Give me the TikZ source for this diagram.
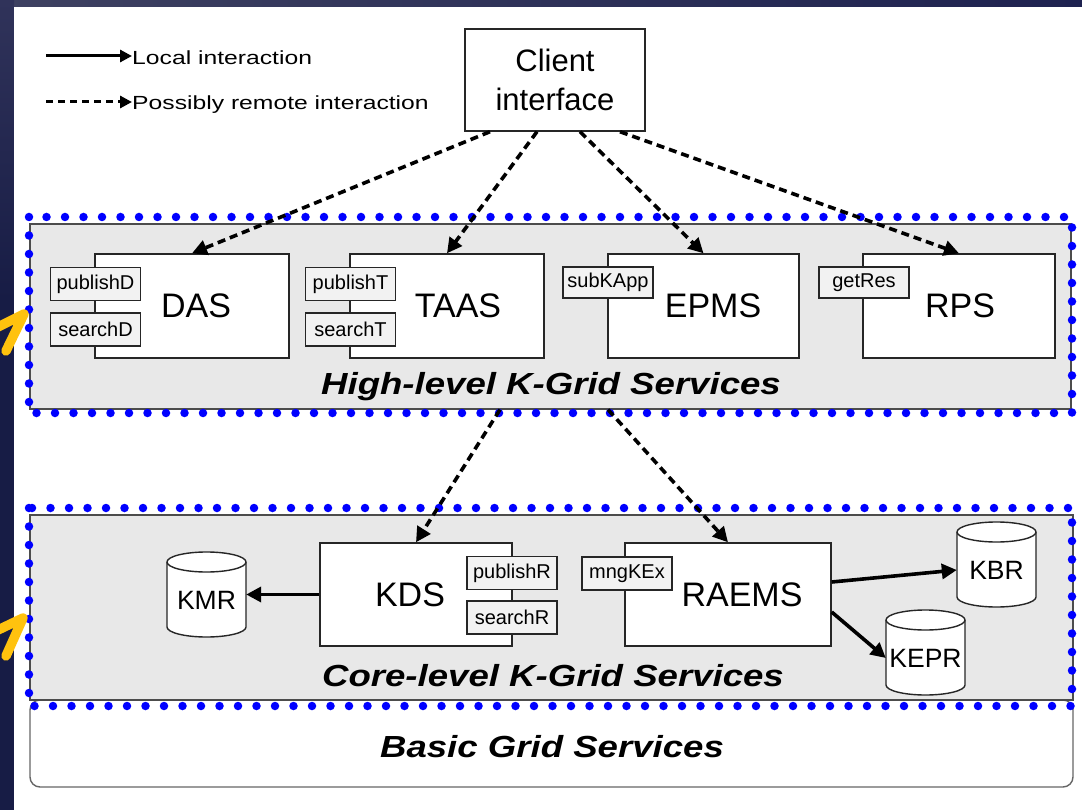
\documentclass[tikz,border=0pt]{standalone}
\usepackage{fontspec}
\setmainfont{Liberation Sans}
\newfontfamily\legendfont[FakeStretch=1.3]{Liberation Sans}
\newfontfamily\titlefont[FakeStretch=1.2]{Liberation Sans}
\usetikzlibrary{arrows.meta}

\definecolor{navy}{HTML}{171C45}
\definecolor{stripL}{HTML}{3E4161}
\definecolor{stripR}{HTML}{1E2250}
\definecolor{stripT}{HTML}{30335A}
\definecolor{regiongray}{HTML}{E8E8E8}
\definecolor{portgray}{HTML}{F2F2F2}
\definecolor{markyellow}{HTML}{FFC20E}

% database drawn as a cylinder around the given centre
\newcommand\dbbody[2]{%
  \filldraw[dbline] ({#1-39.5},{#2-32.5}) -- ({#1-39.5},{#2+32.5})
    arc[start angle=180,end angle=0,x radius=39.5,y radius=10]
    -- ({#1+39.5},{#2-32.5})
    arc[start angle=0,end angle=-180,x radius=39.5,y radius=10] -- cycle;
  \draw[dbline] ({#1-39.5},{#2-32.5})
    arc[start angle=180,end angle=0,x radius=39.5,y radius=10];
}

\begin{document}
\begin{tikzpicture}[x=1pt,y=-1pt,
  comp/.style={draw=black!85, fill=white, line width=1.4pt, inner sep=0pt,
    font=\fontsize{34}{40}\selectfont},
  port/.style={draw=black!85, fill=portgray, line width=1.4pt, inner sep=0pt,
    minimum width=90pt, minimum height=33pt, font=\fontsize{20}{24}\selectfont},
  region/.style={draw=black!70, fill=regiongray, line width=1.2pt, inner sep=0pt},
  bluedots/.style={draw=blue, line width=8.5pt, line cap=round,
    dash pattern=on 0pt off 18.5pt},
  title/.style={inner sep=0pt, anchor=base,
    font=\titlefont\bfseries\itshape\fontsize{30.5}{36}\selectfont},
  legend/.style={inner sep=0pt, anchor=base west,
    font=\legendfont\fontsize{19}{23}\selectfont},
  dbline/.style={draw=black!85, fill=white, line width=1.4pt},
  dbtext/.style={inner sep=0pt, minimum width=79pt, minimum height=60pt,
    font=\fontsize{26.5}{30}\selectfont},
  remote/.style={-{Triangle[length=15pt,width=15pt]}, line width=3.6pt,
    dash pattern=on 8pt off 5pt},
  local/.style={-{Triangle[length=15pt,width=15pt]}, line width=3.6pt},
  pointer/.style={draw=markyellow, line width=9.5pt, line cap=round, line join=round},
]
\useasboundingbox (0,0) rectangle (1082,810);

% slide frame
\fill[navy] (0,0) rectangle (1082,810);
\shade[left color=stripL, right color=stripR] (0,0) rectangle (1082,7);
\shade[top color=stripT, bottom color=navy] (0,0) rectangle (14,300);
\fill[white] (14,7) rectangle (1082,810);

% legend
\coordinate (la) at (46,56);
\node[legend] (lt) at (132,65) {Local interaction};
\draw[local, line width=3pt, -{Triangle[length=12pt,width=12pt]}] (la) -- (la -| lt.west);
\coordinate (ra) at (46,102);
\node[legend] (rt) at (132,110) {Possibly remote interaction};
\draw[remote, line width=3pt, dash pattern=on 7pt off 5pt,
  -{Triangle[length=12pt,width=12pt]}] (ra) -- (ra -| rt.west);

% client
\node[comp, minimum width=180pt, minimum height=102pt, align=center,
  font=\fontsize{31}{38.4}\selectfont] (client) at (555,80) {Client\\interface};

% service layers
\node[draw=black!60, line width=1.4pt, fill=white, rounded corners=10pt,
  minimum width=1043pt, minimum height=87pt, inner sep=0pt] (basic) at (551.5,743.5) {};
\node[title] (basict) at (552,757) {Basic Grid Services};
\node[region, minimum width=1041pt, minimum height=185pt] (hl) at (550.5,316.5) {};
\node[region, minimum width=1043pt, minimum height=185pt] (core) at (551.5,607.5) {};
\draw[bluedots] (29,217) rectangle (1072,413);
\draw[bluedots] (29,508) rectangle (1072,706);
\node[title] (hlt) at (551,395) {High-level K-Grid Services};
\node[title] (coret) at (553,686) {Core-level K-Grid Services};

% high-level services
\node[comp, minimum width=194pt, minimum height=104pt] (das) at (192,306) {\hspace*{8pt}DAS};
\node[port] (publishD) at (95.5,284) {publishD};
\node[port] (searchD) at (95.5,329.5) {searchD};
\node[comp, minimum width=194pt, minimum height=104pt] (taas) at (447,306) {\hspace*{22pt}TAAS};
\node[port] (publishT) at (350.5,284) {publishT};
\node[port] (searchT) at (350.5,329.5) {searchT};
\node[comp, minimum width=191pt, minimum height=104pt] (epms) at (703.5,306) {\hspace*{19pt}EPMS};
\node[port, minimum height=31pt] (subKApp) at (608,282.5) {subKApp};
\node[comp, minimum width=192pt, minimum height=104pt] (rps) at (959,306) {\hspace*{2pt}RPS};
\node[port, minimum height=31pt] (getRes) at (864,282.5) {getRes};

% core-level services
\node[comp, minimum width=192pt, minimum height=103pt] (kds) at (416,594.5) {KDS\hspace*{12pt}};
\node[port] (publishR) at (512,573) {publishR};
\node[port] (searchR) at (512,617.5) {searchR};
\node[comp, minimum width=206pt, minimum height=103pt] (raems) at (728,594.5) {\hspace*{28pt}RAEMS};
\node[port] (mngKEx) at (627,573.5) {mngKEx};

% repositories
\dbbody{206.5}{594.5}
\node[dbtext] (kmr) at (206.5,600) {KMR};
\dbbody{996.5}{564.5}
\node[dbtext] (kbr) at (996.5,570) {KBR};
\dbbody{925.5}{652.5}
\node[dbtext] (kepr) at (925.5,658) {KEPR};

% interactions
\draw[remote] ([xshift=-65pt]client.south) -- (das.north);
\draw[remote] ([xshift=-18pt]client.south) -- (taas.north);
\draw[remote] ([xshift=25pt]client.south) -- (epms.north);
\draw[remote] ([xshift=65pt]client.south) -- (rps.north);
\draw[remote] ([xshift=-50.5pt]hl.south) -- (kds.north);
\draw[remote] ([xshift=57.5pt]hl.south) -- (raems.north);
\draw[local] (kds.west) -- (kds.west -| kmr.east);
\draw[local] ([yshift=12.5pt]raems.east) -- (kbr.west);
\draw[local] ([yshift=-17.5pt]raems.east) -- (kepr.west);

% pointer marks at the left edge
\draw[pointer] (-2,327) -- (24,314) -- (6,351);
\draw[pointer] (-2,630) -- (23,618) -- (6,656);
\end{tikzpicture}
\end{document}
